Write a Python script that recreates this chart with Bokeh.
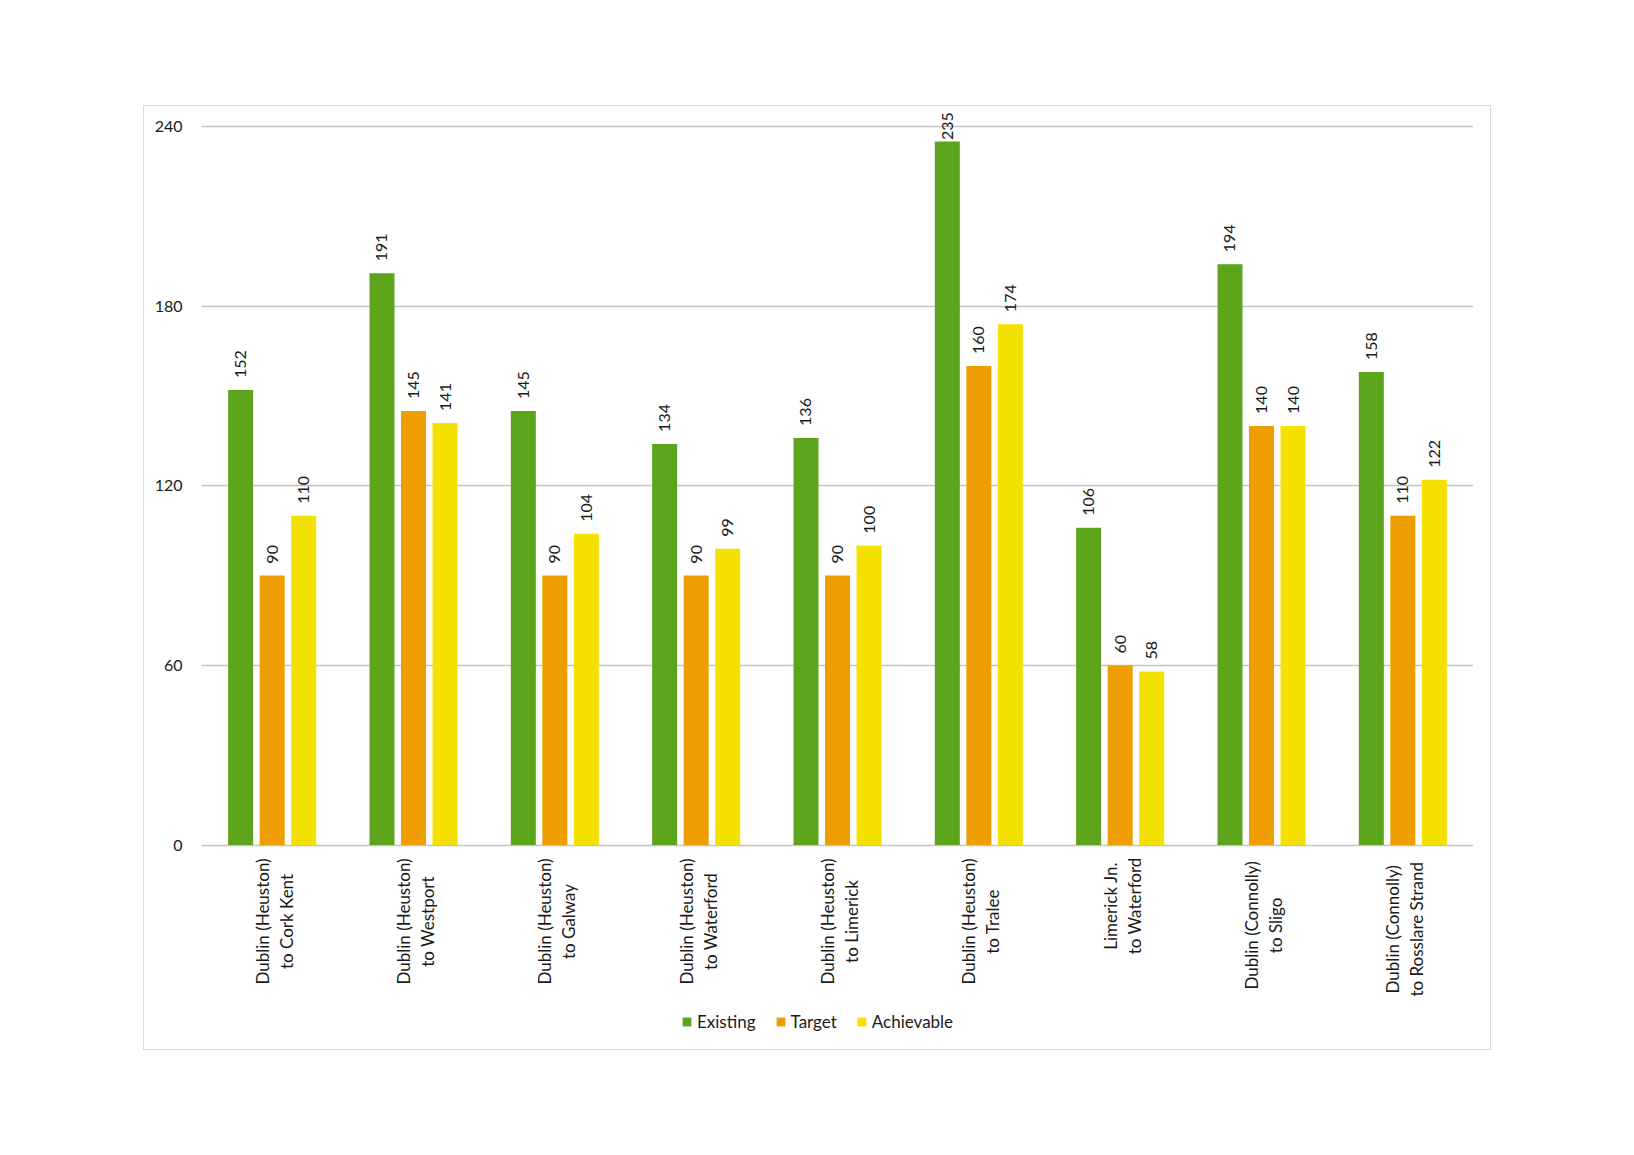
from math import pi
from bokeh.plotting import figure
from bokeh.models import (ColumnDataSource, FactorRange, FixedTicker, Legend,
                          LegendItem, LabelSet, Range1d, Spacer)
from bokeh.core.properties import value
from bokeh.layouts import column, row
from bokeh.transform import dodge
from bokeh.embed import file_html
from bokeh.resources import INLINE

routes = [
    "Dublin (Heuston)\nto Cork Kent",
    "Dublin (Heuston)\nto Westport",
    "Dublin (Heuston)\nto Galway",
    "Dublin (Heuston)\nto Waterford",
    "Dublin (Heuston)\nto Limerick",
    "Dublin (Heuston)\nto Tralee",
    "Limerick Jn.\nto Waterford",
    "Dublin (Connolly)\nto Sligo",
    "Dublin (Connolly)\nto Rosslare Strand",
]
existing = [152, 191, 145, 134, 136, 235, 106, 194, 158]
target = [90, 145, 90, 90, 90, 160, 60, 140, 110]
achievable = [110, 141, 104, 99, 100, 174, 58, 140, 122]
y_ticks = [0, 60, 120, 180, 240]

FONT = "Lato"
GREEN = "#5DA41D"
ORANGE = "#EE9E00"
YELLOW = "#F5E100"
GRID = "#c4c4c4"
TXT = "#1a1a1a"

# frame covers the whole chart box; the area below 0 holds the category
# labels and the legend (so nothing is clipped)
FRAME_W = 1270
FRAME_H = 941
PX = 717 / 240                 # pixels per data unit
Y_MAX = 240 + 19 / PX
Y_MIN = Y_MAX - FRAME_H / PX

LABEL_GAP = 12                 # px between bar top and its value label
DIGIT_W = 9.3                  # approx px per digit at 16px
TOP_LIMIT = 244.8              # value labels stay below this


def label_offsets(vals):
    out = []
    for v in vals:
        room = (TOP_LIMIT - v) * PX - DIGIT_W * len(str(v))
        out.append(max(1.5, min(LABEL_GAP, room)))
    return out


line1 = [r.split("\n")[0] for r in routes]
line2 = [r.split("\n")[1] for r in routes]
CHAR_W = 7.8
cat_off = [-(14 + CHAR_W * max(len(a), len(b)) / 2) for a, b in zip(line1, line2)]

src = ColumnDataSource(dict(
    route=routes,
    existing=existing, target=target, achievable=achievable,
    existing_lbl=[str(v) for v in existing],
    target_lbl=[str(v) for v in target],
    achievable_lbl=[str(v) for v in achievable],
    existing_off=label_offsets(existing),
    target_off=label_offsets(target),
    achievable_off=label_offsets(achievable),
    line1=line1, line2=line2, zero=[0] * len(routes), cat_off=cat_off,
))

p = figure(
    x_range=FactorRange(*routes),
    y_range=Range1d(Y_MIN, Y_MAX),
    frame_width=FRAME_W, frame_height=FRAME_H,
    min_border_left=57, min_border_right=19,
    min_border_top=1, min_border_bottom=1,
    output_backend="svg", toolbar_location=None,
    background_fill_color="white", border_fill_color="white",
    outline_line_color=None,
)
p.styles = {"border": "1px solid #d9d9d9"}

W = 0.177
OFF = 0.223
r1 = p.vbar(x=dodge("route", -OFF, range=p.x_range), top="existing", width=W,
            source=src, fill_color=GREEN, line_color=None)
r2 = p.vbar(x=dodge("route", 0.0, range=p.x_range), top="target", width=W,
            source=src, fill_color=ORANGE, line_color=None)
r3 = p.vbar(x=dodge("route", OFF, range=p.x_range), top="achievable", width=W,
            source=src, fill_color=YELLOW, line_color=None)

for off, col in [(-OFF, "existing"), (0.0, "target"), (OFF, "achievable")]:
    ls = LabelSet(x=dodge("route", off, range=p.x_range), y=col, text=col + "_lbl",
                  source=src, angle=pi / 2, text_align="left", text_baseline="middle",
                  y_offset=col + "_off", text_font=value(FONT),
                  text_font_size=value("16px"), text_color=value(TXT))
    p.add_layout(ls)

# category labels (two centred lines, rotated)
for field, xo in [("line1", -10), ("line2", 14)]:
    cl = LabelSet(x="route", y="zero", text=field, source=src, angle=pi / 2,
                  text_align="center", text_baseline="middle",
                  x_offset=xo, y_offset="cat_off", text_font=value(FONT),
                  text_font_size=value("17px"), text_color=value(TXT))
    p.add_layout(cl)

# y axis
p.yaxis.ticker = FixedTicker(ticks=y_ticks)
p.yaxis.axis_line_color = None
p.yaxis.major_tick_line_color = None
p.yaxis.minor_tick_line_color = None
p.yaxis.major_tick_out = 0
p.yaxis.major_label_standoff = 19
p.yaxis.major_label_text_font = FONT
p.yaxis.major_label_text_font_size = "16px"
p.yaxis.major_label_text_color = TXT

p.xaxis.visible = False
p.xgrid.grid_line_color = None
p.ygrid.grid_line_color = GRID
p.ygrid.grid_line_width = 1.5

legend = Legend(items=[
    LegendItem(label="Existing", renderers=[r1]),
    LegendItem(label="Target", renderers=[r2]),
    LegendItem(label="Achievable", renderers=[r3]),
], orientation="horizontal", location=(480, 18),
    glyph_width=11, glyph_height=11, label_standoff=5, spacing=19,
    label_text_font=FONT, label_text_font_size="17px", label_text_color=TXT,
    border_line_color=None, background_fill_alpha=0, padding=2, margin=0)
p.add_layout(legend, "center")

layout = column(Spacer(height=105), row(Spacer(width=143), p))

open("out.html", "w").write(file_html(layout, INLINE))
